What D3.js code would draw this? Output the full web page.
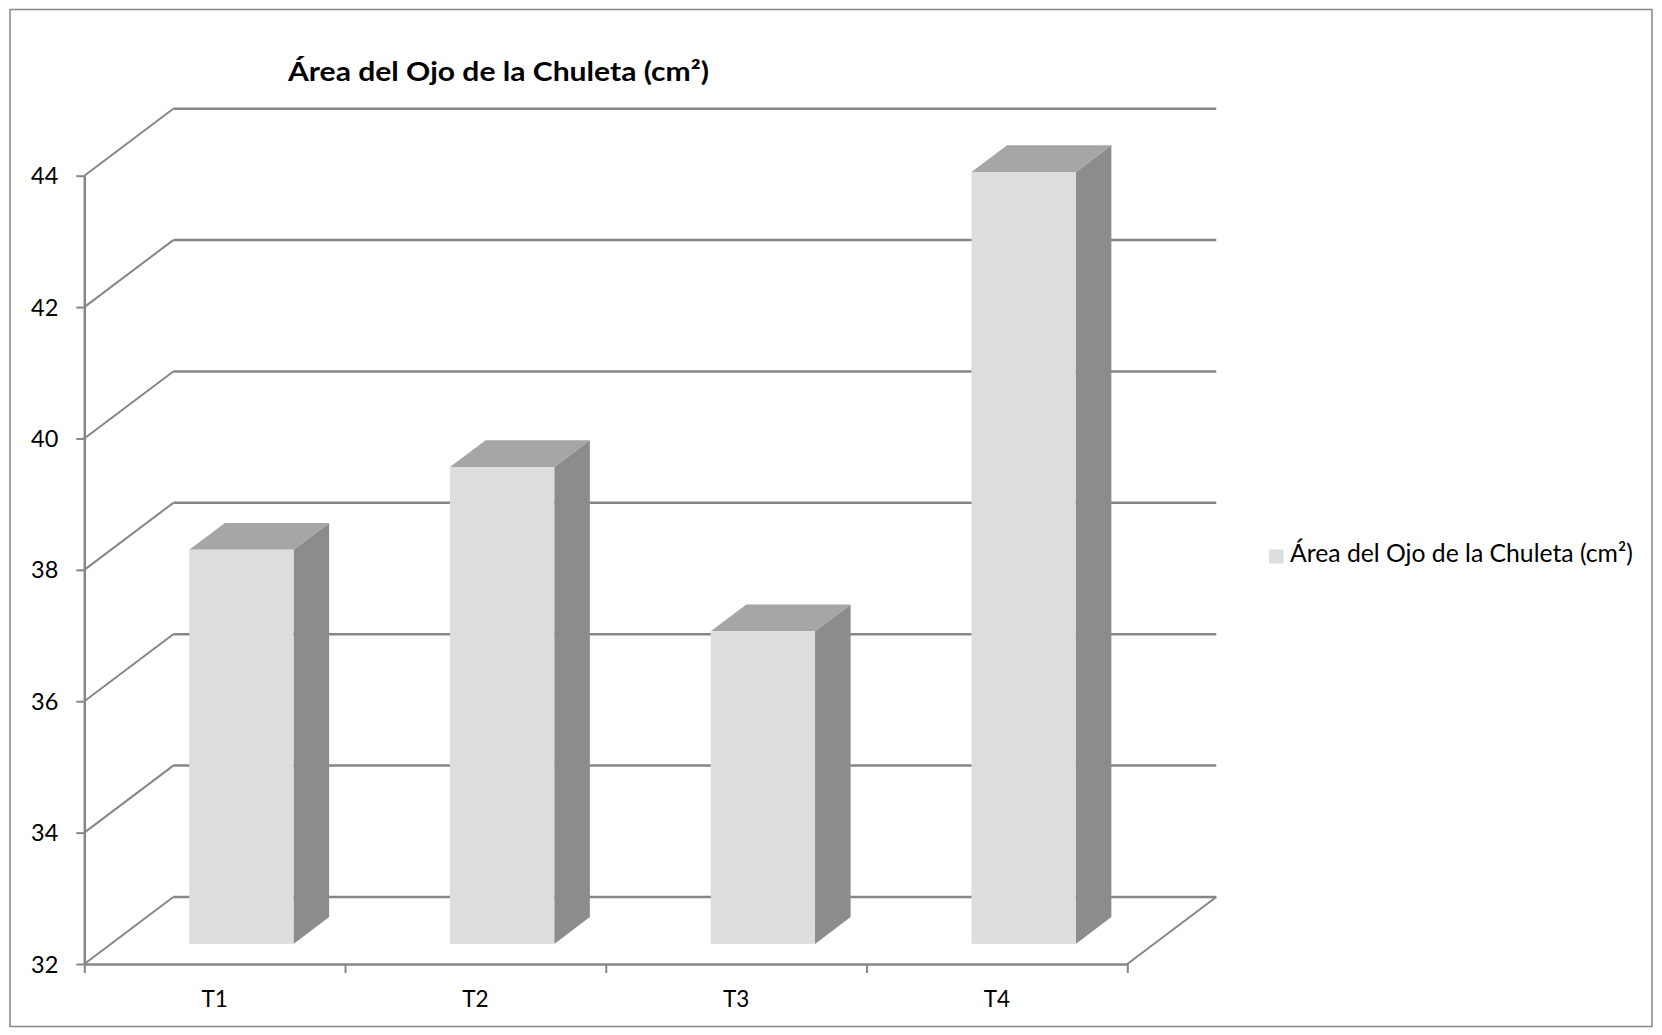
<!DOCTYPE html>
<html>
<head>
<meta charset="utf-8">
<script src="https://cdn.jsdelivr.net/npm/d3@7"></script>
<style>
  html, body { margin: 0; padding: 0; background: #fff; }
  svg { display: block; }
  text { font-family: Lato, "Open Sans", "Noto Sans", sans-serif; fill: #000; }
</style>
</head>
<body>
<svg id="chart" width="1662" height="1035"></svg>
<script>
// Series data
const categories = ["T1", "T2", "T3", "T4"];
const values = [38.0, 39.26, 36.76, 43.75];
const yTicks = [32, 34, 36, 38, 40, 42, 44];
const seriesName = "Área del Ojo de la Chuleta (cm²)";
const chartTitle = "Área del Ojo de la Chuleta (cm²)";

// Oblique 3-D frame: front plane + depth offset
const plot = { left: 84.3, right: 1127.3, bottom: 964, top: 175.7 };
const depth = { dx: 89, dy: -67 };
const barDepth = [0.3, 0.7];   // bar front/back as fraction of total depth
const barWidthFrac = 0.4;      // of category band

const colors = {
  grid: "#868686",
  front: "#dddddd",
  top: "#a6a6a6",
  side: "#8c8c8c",
  border: "#868686"
};

const svg = d3.select("#chart");

// Outer chart border
svg.append("rect")
  .attr("x", 10).attr("y", 9.5)
  .attr("width", 1642).attr("height", 1017)
  .attr("fill", "#fff")
  .attr("stroke", colors.border)
  .attr("stroke-width", 1.5);

const y = d3.scaleLinear().domain([32, 44]).range([plot.bottom, plot.top]);
const x = d3.scaleBand().domain(categories).range([plot.left, plot.right]).padding(0);
const xEdges = d3.scaleLinear().domain([0, categories.length]).range([plot.left, plot.right]);

const gGrid = svg.append("g")
  .attr("stroke", colors.grid)
  .attr("stroke-width", 2.5)
  .attr("fill", "none");

// Back wall gridlines
gGrid.selectAll("line.back")
  .data(yTicks)
  .join("line")
  .attr("class", "back")
  .attr("x1", plot.left + depth.dx)
  .attr("x2", plot.right + depth.dx)
  .attr("y1", d => y(d) + depth.dy)
  .attr("y2", d => y(d) + depth.dy);

// Side wall gridlines (front axis to back wall)
gGrid.selectAll("line.side")
  .data(yTicks)
  .join("line")
  .attr("class", "side")
  .attr("stroke-width", 2)
  .attr("x1", plot.left)
  .attr("x2", plot.left + depth.dx)
  .attr("y1", d => y(d))
  .attr("y2", d => y(d) + depth.dy);

// Floor right edge
gGrid.append("line")
  .attr("stroke-width", 2)
  .attr("x1", plot.right)
  .attr("y1", y(32))
  .attr("x2", plot.right + depth.dx)
  .attr("y2", y(32) + depth.dy);

// Bars
const bw = x.bandwidth() * barWidthFrac;
const ddx = depth.dx * (barDepth[1] - barDepth[0]);
const ddy = depth.dy * (barDepth[1] - barDepth[0]);
const ox = depth.dx * barDepth[0];
const oy = depth.dy * barDepth[0];

const bars = svg.append("g").selectAll("g.bar")
  .data(categories.map((c, i) => ({ c, v: values[i] })))
  .join("g")
  .attr("class", "bar");

bars.each(function(d) {
  const g = d3.select(this);
  const x0 = x(d.c) + x.bandwidth() / 2 - bw / 2 + ox;
  const x1 = x0 + bw;
  const yb = y(32) + oy;
  const yt = y(d.v) + oy;
  g.append("polygon")
    .attr("fill", colors.side)
    .attr("points", [[x1, yt], [x1 + ddx, yt + ddy], [x1 + ddx, yb + ddy], [x1, yb]].join(" "));
  g.append("polygon")
    .attr("fill", colors.top)
    .attr("points", [[x0, yt], [x0 + ddx, yt + ddy], [x1 + ddx, yt + ddy], [x1, yt]].join(" "));
  g.append("rect")
    .attr("fill", colors.front)
    .attr("x", x0).attr("y", yt)
    .attr("width", bw).attr("height", yb - yt);
});

// Value axis
const yAxis = svg.append("g")
  .attr("transform", `translate(${plot.left},0)`)
  .call(d3.axisLeft(y).tickValues(yTicks).tickSize(8).tickSizeOuter(0).tickPadding(18));
yAxis.attr("font-family", null).attr("font-size", null);
yAxis.select(".domain").attr("stroke", colors.grid).attr("stroke-width", 2.5);
yAxis.selectAll(".tick line").attr("stroke", colors.grid).attr("stroke-width", 2);
yAxis.selectAll(".tick text")
  .attr("font-size", 23.5)
  .attr("dy", "0.34em");

// Category axis (ticks at category boundaries)
const xAxis = svg.append("g")
  .attr("transform", `translate(0,${plot.bottom})`)
  .call(d3.axisBottom(xEdges).tickValues(d3.range(categories.length + 1)).tickSize(9).tickSizeOuter(0).tickFormat(""));
xAxis.select(".domain").attr("stroke", colors.grid).attr("stroke-width", 2.5);
xAxis.selectAll(".tick line").attr("stroke", colors.grid).attr("stroke-width", 2);

svg.append("g").selectAll("text")
  .data(categories)
  .join("text")
  .attr("x", d => x(d) + x.bandwidth() / 2)
  .attr("y", 1006.5)
  .attr("text-anchor", "middle")
  .attr("font-size", 22.5)
  .text(d => d);

// Fit a text element to a given width by scaling its font size
function fitWidth(sel, width) {
  sel.attr("font-size", 100);
  const len = sel.node().getComputedTextLength();
  sel.attr("font-size", 100 * width / len);
}

// Title
svg.append("text")
  .attr("x", 288).attr("y", 81)
  .attr("font-weight", "bold")
  .attr("font-size", 26)
  .attr("textLength", 421)
  .attr("lengthAdjust", "spacingAndGlyphs")
  .text(chartTitle);

// Legend
const legend = svg.append("g");
legend.append("rect")
  .attr("x", 1269).attr("y", 549.5)
  .attr("width", 14.5).attr("height", 14)
  .attr("fill", colors.front);
const legendText = legend.append("text")
  .attr("x", 1290).attr("y", 562)
  .text(seriesName);
fitWidth(legendText, 343);
</script>
</body>
</html>
